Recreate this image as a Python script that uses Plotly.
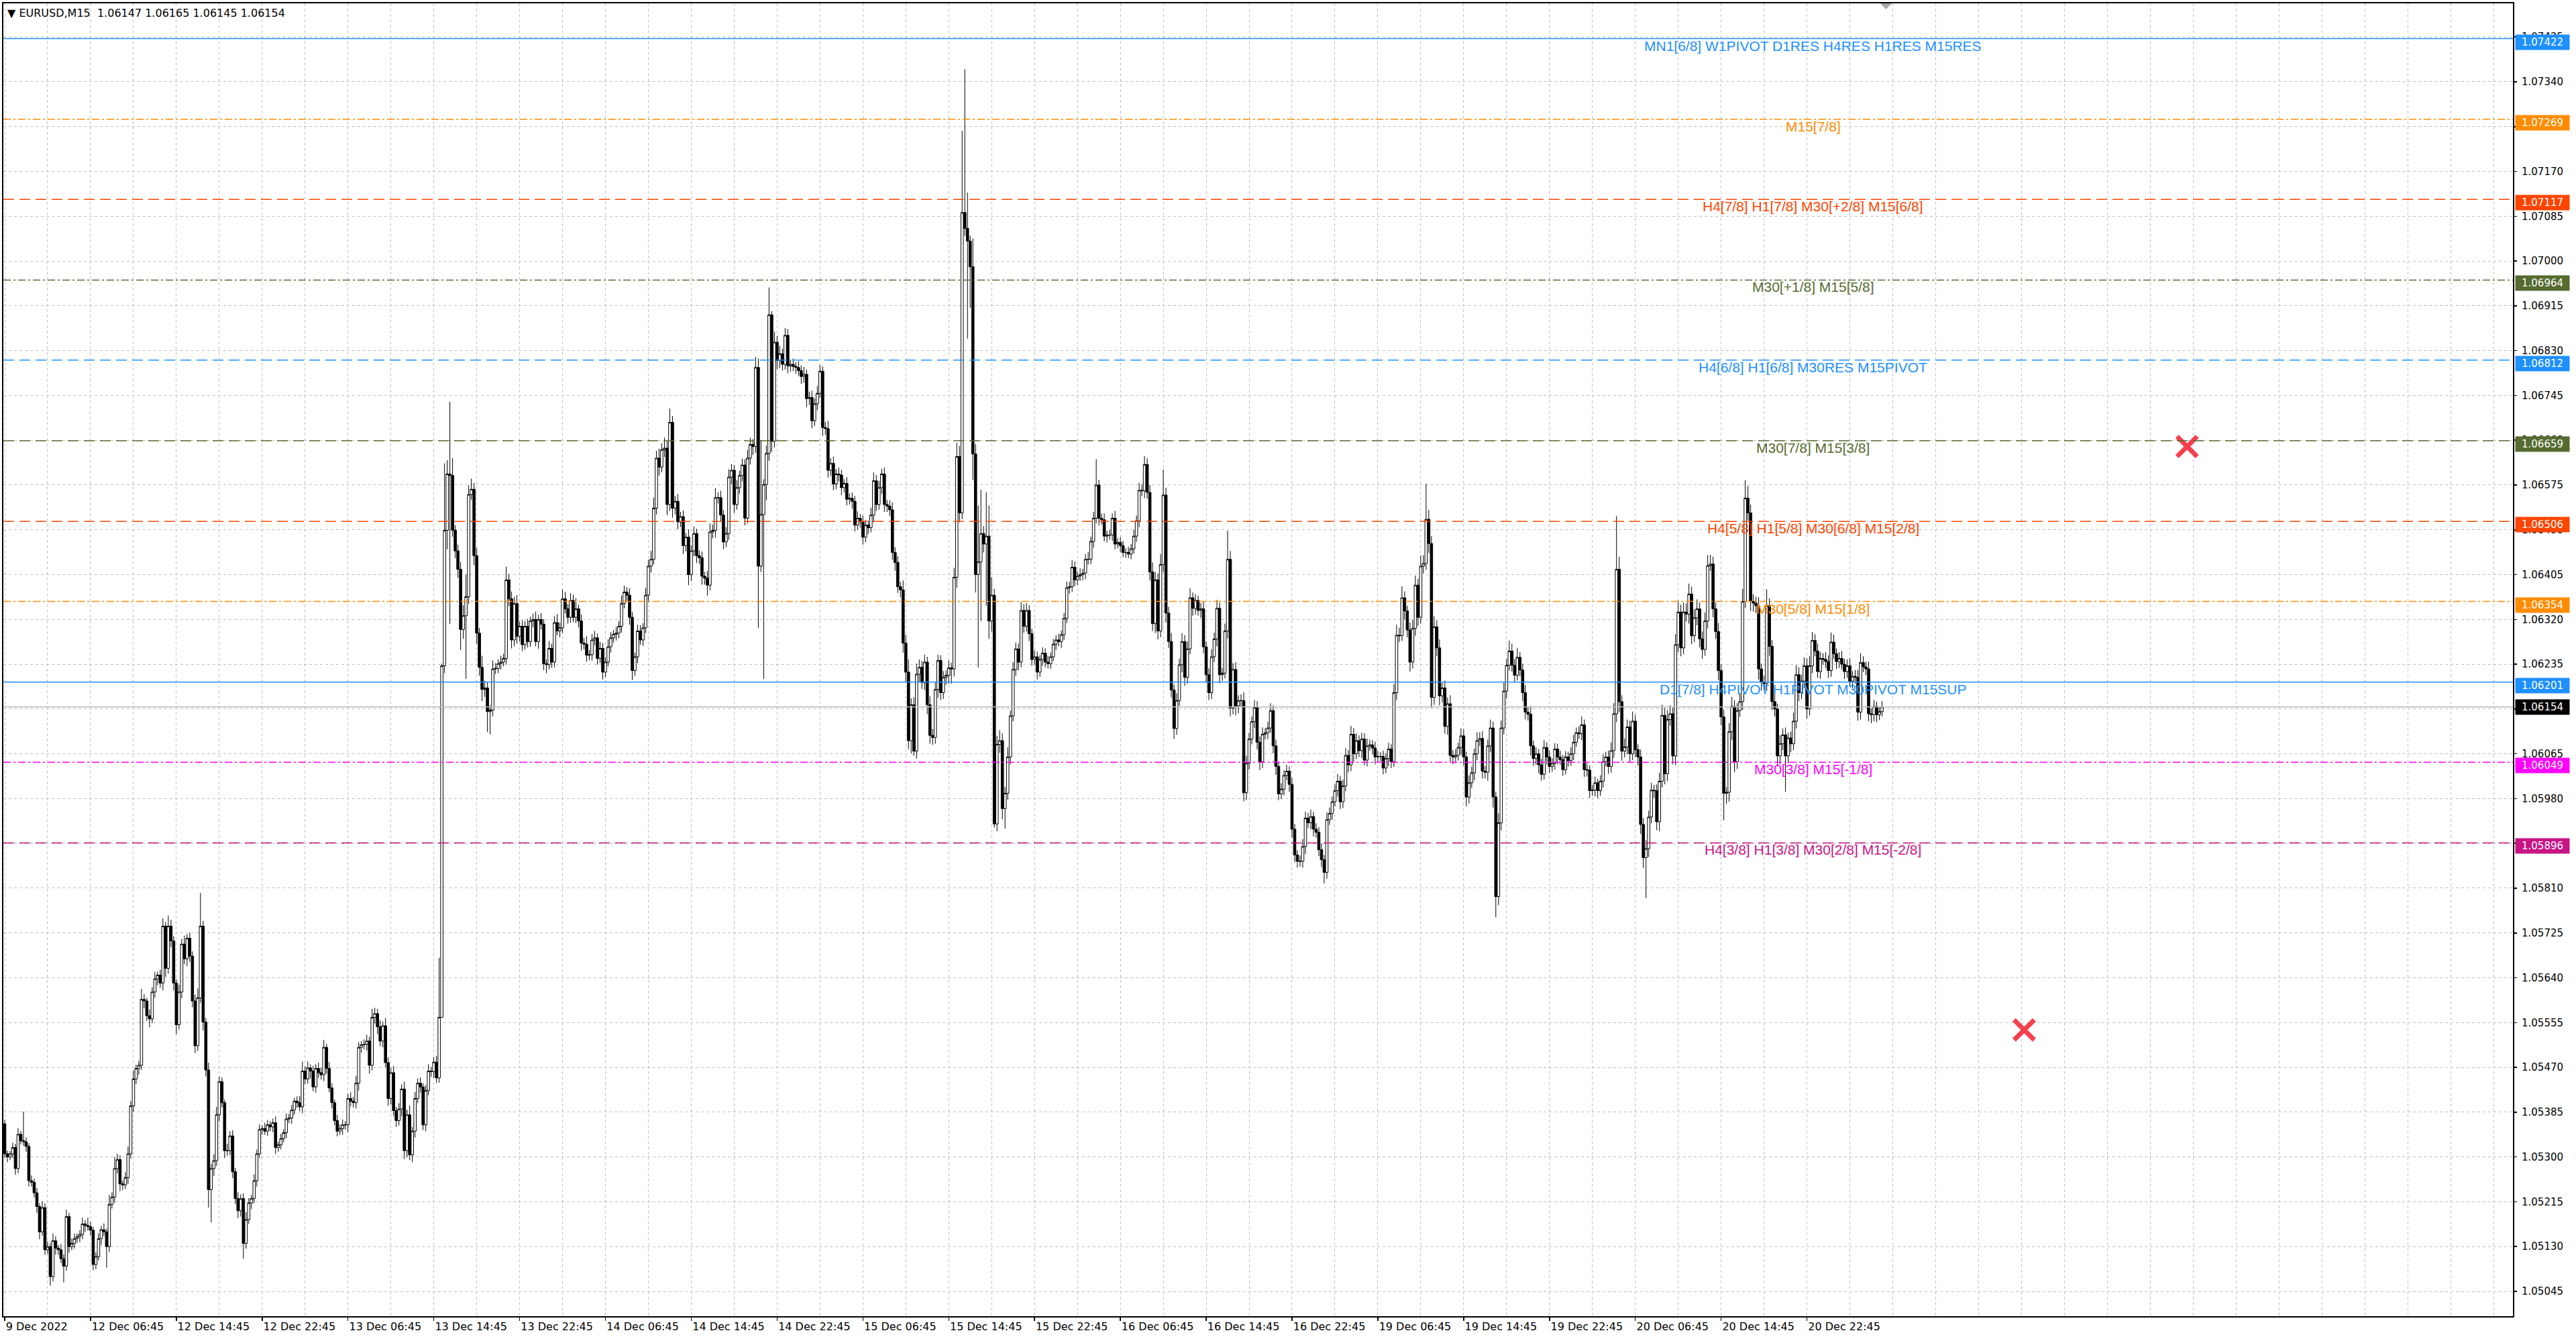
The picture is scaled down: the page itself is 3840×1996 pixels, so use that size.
import plotly.graph_objects as go

# ---------------- data (EURUSD M15, prices in points above 1.05000) ----------------
BASE_PRICE = 1.05
POINT = 0.00001
FIRST_OPEN_PTS = 363

CLOSE_PTS = [
    306, 300, 306, 318, 278, 343, 331, 329, 320, 255,
    252, 232, 206, 158, 204, 124, 130, 73, 141, 127,
    124, 107, 93, 187, 130, 136, 145, 149, 153, 173,
    170, 168, 161, 96, 111, 145, 162, 158, 130, 210,
    224, 278, 295, 249, 247, 261, 306, 397, 448, 468,
    474, 599, 596, 568, 562, 613, 638, 645, 630, 738,
    658, 738, 710, 630, 551, 613, 704, 676, 715, 681,
    596, 511, 602, 738, 556, 465, 238, 278, 293, 380,
    443, 403, 312, 312, 340, 272, 221, 198, 221, 136,
    181, 213, 221, 255, 306, 352, 354, 349, 361, 357,
    365, 318, 323, 335, 346, 372, 374, 389, 406, 403,
    395, 463, 448, 469, 463, 433, 468, 460, 456, 508,
    468, 431, 403, 369, 349, 354, 361, 361, 411, 406,
    403, 440, 508, 513, 514, 520, 474, 565, 572, 547,
    520, 549, 479, 411, 460, 388, 369, 391, 429, 312,
    380, 304, 349, 411, 440, 433, 361, 426, 463, 462,
    480, 450, 565, 1232, 1489, 1596, 1593, 1489, 1450, 1415,
    1301, 1327, 1363, 1557, 1567, 1441, 1294, 1229, 1187, 1190,
    1145, 1148, 1226, 1227, 1236, 1239, 1246, 1395, 1359, 1281,
    1350, 1288, 1307, 1272, 1307, 1278, 1317, 1320, 1278, 1320,
    1311, 1236, 1234, 1265, 1239, 1314, 1298, 1304, 1359, 1340,
    1324, 1356, 1324, 1340, 1317, 1275, 1273, 1252, 1253, 1281,
    1285, 1246, 1265, 1220, 1239, 1268, 1285, 1292, 1294, 1307,
    1350, 1372, 1366, 1324, 1223, 1249, 1298, 1281, 1304, 1366,
    1421, 1434, 1531, 1626, 1609, 1642, 1645, 1538, 1694, 1531,
    1544, 1505, 1515, 1460, 1476, 1405, 1450, 1483, 1441, 1437,
    1402, 1398, 1385, 1486, 1489, 1551, 1551, 1518, 1467, 1483,
    1590, 1603, 1538, 1570, 1593, 1613, 1512, 1626, 1652, 1648,
    1798, 1421, 1519, 1576, 1635, 1898, 1658, 1846, 1811, 1824,
    1804, 1859, 1801, 1804, 1800, 1798, 1792, 1781, 1785, 1739,
    1741, 1697, 1729, 1749, 1791, 1684, 1682, 1603, 1616, 1577,
    1596, 1594, 1570, 1578, 1548, 1550, 1544, 1499, 1512, 1505,
    1476, 1499, 1494, 1518, 1583, 1538, 1570, 1596, 1538, 1535,
    1528, 1447, 1428, 1382, 1376, 1275, 1220, 1090, 1158, 1070,
    1216, 1229, 1200, 1239, 1158, 1100, 1096, 1187, 1242, 1181,
    1210, 1214, 1228, 1226, 1400, 1629, 1522, 2092, 2062, 2038,
    1989, 1634, 1405, 1429, 1483, 1463, 1478, 1317, 1366, 932,
    1083, 1090, 961, 990, 1059, 1137, 1225, 1264, 1239, 1337,
    1307, 1337, 1293, 1244, 1249, 1220, 1244, 1256, 1239, 1236,
    1249, 1273, 1281, 1278, 1291, 1322, 1380, 1382, 1419, 1395,
    1402, 1405, 1408, 1434, 1434, 1468, 1512, 1575, 1512, 1509,
    1478, 1480, 1480, 1512, 1463, 1466, 1460, 1447, 1447, 1444,
    1454, 1478, 1507, 1565, 1564, 1614, 1561, 1410, 1312, 1395,
    1298, 1424, 1556, 1332, 1278, 1186, 1113, 1166, 1234, 1278,
    1210, 1264, 1361, 1341, 1356, 1337, 1340, 1268, 1215, 1181,
    1249, 1283, 1341, 1215, 1218, 1298, 1434, 1152, 1225, 1156,
    1166, 1166, 991, 1047, 1093, 1126, 1153, 1087, 1050, 1102,
    1105, 1114, 1147, 1080, 1041, 989, 998, 1024, 1032, 1007,
    922, 873, 861, 861, 889, 943, 934, 946, 922, 916,
    883, 864, 840, 940, 952, 974, 995, 1013, 974, 1004,
    1062, 1044, 1102, 1065, 1090, 1071, 1093, 1053, 1080, 1082,
    1076, 1059, 1060, 1060, 1038, 1056, 1074, 1050, 1181, 1290,
    1289, 1361, 1336, 1300, 1239, 1303, 1385, 1324, 1421, 1426,
    1510, 1464, 1172, 1306, 1266, 1175, 1190, 1117, 1160, 1062,
    1059, 1062, 1077, 1099, 1059, 983, 1010, 1029, 1065, 1090,
    1094, 1032, 1030, 1080, 1114, 983, 794, 934, 1114, 1184,
    1233, 1260, 1233, 1214, 1248, 1224, 1181, 1144, 1140, 1080,
    1056, 1065, 1044, 1026, 1077, 1059, 1041, 1047, 1074, 1059,
    1054, 1035, 1059, 1052, 1065, 1087, 1105, 1103, 1120, 1035,
    1034, 995, 996, 1010, 995, 1013, 1050, 1059, 1041, 1071,
    1141, 1415, 1164, 1070, 1078, 1116, 1065, 1127, 1073, 1059,
    931, 868, 885, 945, 996, 995, 936, 1013, 1138, 1027,
    1130, 1141, 1061, 1272, 1334, 1266, 1334, 1330, 1368, 1289,
    1323, 1340, 1283, 1263, 1317, 1422, 1425, 1340, 1297, 1223,
    1135, 990, 992, 1107, 1155, 1050, 1147, 1164, 1354, 1550,
    1522, 1354, 1351, 1346, 1226, 1201, 1198, 1346, 1269, 1164,
    1150, 1061, 1084, 1101, 1061, 1095, 1084, 1127, 1215, 1181,
    1203, 1232, 1150, 1232, 1280, 1260, 1221, 1246, 1244, 1240,
    1223, 1277, 1255, 1240, 1246, 1235, 1221, 1232, 1203, 1212,
    1210, 1144, 1238, 1230, 1226, 1141, 1139, 1155, 1139, 1145,
    1154,
]

UP_WICK_PTS = [
    8, 6, 5, 9, 7, 12, 6, 55, 8, 6,
    10, 7, 9, 6, 12, 8, 10, 7, 14, 9,
    6, 11, 8, 13, 7, 9, 10, 6, 8, 12,
    7, 15, 9, 6, 8, 10, 7, 12, 6, 18,
    9, 22, 11, 8, 6, 10, 14, 9, 16, 7,
    8, 20, 10, 6, 12, 9, 13, 7, 10, 15,
    8, 20, 12, 9, 7, 14, 10, 16, 8, 11,
    9, 12, 18, 63, 10, 8, 14, 9, 12, 15,
    10, 8, 6, 13, 9, 11, 7, 12, 8, 10,
    14, 9, 7, 12, 8, 10, 6, 11, 9, 7,
    8, 12, 6, 9, 7, 11, 8, 10, 6, 9,
    13, 18, 9, 12, 7, 10, 8, 11, 9, 14,
    7, 12, 9, 6, 11, 8, 10, 7, 9, 12,
    8, 14, 10, 7, 9, 12, 8, 16, 11, 9,
    12, 8, 15, 10, 9, 13, 7, 11, 9, 14,
    10, 18, 8, 12, 9, 11, 7, 10, 13, 8,
    9, 12, 113, 4, 127, 26, 137, 33, 10, 12,
    14, 20, 42, 18, 20, 12, 15, 10, 22, 14,
    12, 9, 16, 10, 8, 12, 9, 25, 11, 14,
    13, 16, 9, 12, 10, 14, 8, 11, 15, 9,
    12, 10, 8, 14, 9, 12, 16, 10, 18, 13,
    9, 14, 11, 20, 8, 12, 10, 15, 9, 11,
    13, 8, 12, 10, 9, 14, 11, 8, 12, 10,
    15, 12, 9, 13, 10, 8, 12, 11, 9, 14,
    12, 16, 20, 14, 18, 12, 20, 14, 26, 12,
    10, 14, 9, 12, 8, 15, 11, 13, 9, 10,
    12, 8, 14, 16, 11, 18, 10, 13, 9, 12,
    15, 12, 10, 14, 9, 12, 11, 16, 13, 10,
    20, 17, 141, 10, 15, 52, 7, 20, 12, 15,
    10, 14, 12, 9, 11, 8, 12, 10, 14, 9,
    11, 13, 10, 14, 12, 9, 11, 15, 10, 13,
    9, 12, 10, 8, 12, 9, 11, 10, 13, 8,
    12, 10, 9, 14, 16, 11, 13, 10, 12, 9,
    11, 14, 10, 12, 9, 18, 16, 24, 12, 14,
    20, 15, 12, 14, 10, 16, 12, 14, 11, 10,
    12, 9, 14, 10, 18, 26, 20, 155, 272, 68,
    10, 54, 19, 107, 83, 14, 83, 58, 34, 12,
    16, 20, 14, 12, 18, 10, 14, 12, 10, 16,
    12, 14, 10, 9, 12, 10, 8, 11, 9, 12,
    8, 10, 9, 12, 8, 10, 12, 9, 14, 11,
    9, 12, 8, 10, 14, 9, 12, 49, 10, 9,
    12, 8, 10, 9, 14, 8, 10, 9, 8, 11,
    9, 12, 10, 14, 11, 16, 12, 14, 18, 15,
    12, 20, 48, 14, 12, 16, 10, 14, 12, 16,
    12, 14, 18, 10, 12, 9, 11, 14, 10, 12,
    14, 12, 16, 11, 10, 14, 54, 16, 12, 14,
    10, 12, 16, 14, 12, 10, 14, 12, 11, 13,
    9, 12, 14, 10, 12, 9, 11, 10, 12, 9,
    12, 10, 9, 11, 14, 12, 10, 13, 9, 11,
    10, 12, 9, 14, 11, 10, 12, 14, 10, 12,
    14, 10, 16, 12, 14, 10, 12, 11, 14, 10,
    9, 12, 10, 8, 11, 10, 12, 9, 16, 20,
    14, 22, 12, 10, 14, 16, 18, 12, 20, 16,
    67, 18, 14, 20, 12, 16, 10, 14, 12, 16,
    10, 12, 9, 14, 12, 10, 14, 12, 10, 16,
    12, 14, 10, 12, 16, 12, 10, 18, 14, 16,
    12, 20, 14, 12, 18, 10, 12, 14, 10, 16,
    10, 12, 9, 11, 14, 10, 12, 9, 11, 10,
    12, 9, 11, 10, 12, 14, 10, 12, 16, 10,
    12, 9, 10, 12, 8, 11, 14, 10, 12, 16,
    20, 101, 24, 12, 16, 14, 12, 18, 12, 10,
    14, 12, 16, 12, 14, 10, 12, 16, 20, 14,
    18, 16, 12, 20, 22, 14, 18, 16, 20, 14,
    16, 18, 12, 14, 16, 20, 18, 14, 12, 16,
    12, 14, 10, 16, 18, 12, 14, 16, 24, 34,
    23, 16, 14, 12, 16, 10, 12, 31, 14, 12,
    14, 10, 16, 12, 14, 10, 12, 16, 18, 14,
    12, 16, 14, 18, 16, 12, 14, 12, 10, 14,
    12, 18, 14, 10, 12, 14, 10, 12, 14, 10,
    12, 14, 18, 12, 10, 14, 10, 12, 9, 10,
    11,
]

DN_WICK_PTS = [
    7, 10, 6, 8, 12, 9, 7, 8, 10, 11,
    8, 9, 12, 14, 7, 10, 8, 17, 9, 12,
    10, 8, 31, 9, 12, 7, 10, 8, 11, 9,
    12, 8, 10, 11, 9, 7, 12, 8, 40, 10,
    8, 11, 9, 14, 10, 8, 12, 9, 11, 10,
    12, 9, 14, 10, 16, 8, 11, 12, 9, 14,
    16, 10, 12, 14, 18, 9, 12, 10, 14, 11,
    12, 14, 10, 9, 16, 12, 34, 62, 14, 10,
    12, 9, 14, 10, 8, 12, 10, 14, 11, 29,
    10, 8, 12, 9, 11, 8, 10, 7, 9, 8,
    10, 12, 8, 9, 7, 10, 8, 11, 9, 10,
    8, 12, 10, 9, 14, 8, 11, 10, 9, 12,
    10, 8, 11, 9, 10, 7, 12, 9, 14, 10,
    9, 11, 14, 10, 9, 12, 16, 10, 12, 14,
    10, 12, 9, 14, 11, 10, 12, 9, 14, 16,
    12, 10, 14, 12, 9, 11, 10, 12, 9, 10,
    12, 10, 9, 0, 14, 36, 282, 12, 14, 16,
    39, 18, 120, 14, 10, 18, 20, 16, 22, 14,
    39, 43, 12, 10, 9, 11, 8, 12, 14, 16,
    12, 14, 10, 12, 9, 11, 10, 12, 9, 14,
    10, 12, 16, 9, 11, 10, 8, 12, 10, 9,
    12, 10, 9, 11, 12, 14, 10, 12, 9, 11,
    10, 12, 9, 14, 10, 8, 11, 9, 12, 10,
    12, 9, 11, 14, 18, 10, 12, 9, 11, 10,
    14, 12, 10, 12, 16, 10, 14, 20, 12, 18,
    12, 14, 10, 16, 11, 20, 12, 10, 14, 12,
    16, 12, 20, 10, 12, 14, 11, 12, 14, 10,
    12, 14, 16, 10, 12, 11, 14, 10, 12, 16,
    12, 117, 11, 312, 30, 14, 20, 12, 16, 14,
    12, 10, 14, 11, 9, 12, 10, 14, 12, 16,
    12, 14, 10, 12, 9, 16, 12, 14, 11, 12,
    10, 12, 14, 9, 12, 10, 14, 12, 9, 11,
    14, 10, 12, 9, 14, 12, 10, 12, 14, 11,
    12, 14, 16, 12, 14, 18, 20, 16, 24, 9,
    14, 16, 12, 14, 18, 16, 14, 12, 16, 14,
    12, 14, 16, 28, 14, 20, 18, 12, 14, 185,
    78, 49, 34, 176, 112, 16, 117, 34, 20, 7,
    14, 16, 20, 38, 12, 14, 10, 12, 16, 10,
    12, 10, 14, 12, 10, 14, 9, 12, 10, 9,
    10, 8, 11, 9, 12, 10, 9, 11, 10, 12,
    10, 9, 11, 12, 10, 9, 12, 10, 14, 9,
    10, 12, 9, 11, 10, 8, 12, 9, 10, 8,
    10, 9, 11, 12, 10, 14, 12, 16, 14, 18,
    16, 12, 14, 18, 12, 14, 20, 12, 10, 14,
    16, 12, 10, 14, 12, 10, 14, 12, 16, 14,
    12, 10, 14, 16, 12, 10, 14, 16, 12, 18,
    14, 12, 16, 14, 12, 10, 12, 14, 16, 12,
    10, 12, 9, 14, 16, 12, 10, 12, 9, 14,
    16, 14, 12, 10, 12, 14, 10, 12, 14, 10,
    12, 14, 21, 12, 10, 12, 9, 11, 14, 12,
    10, 14, 12, 16, 10, 12, 14, 10, 12, 9,
    12, 14, 10, 9, 12, 10, 14, 12, 10, 14,
    12, 10, 16, 14, 18, 12, 14, 16, 12, 14,
    12, 18, 20, 14, 16, 18, 12, 14, 16, 12,
    14, 12, 10, 14, 16, 18, 12, 10, 14, 12,
    10, 14, 12, 16, 12, 20, 39, 16, 14, 12,
    14, 10, 12, 14, 10, 12, 16, 14, 12, 18,
    14, 12, 16, 12, 10, 14, 12, 10, 12, 14,
    10, 12, 9, 11, 10, 12, 9, 10, 12, 14,
    12, 14, 10, 12, 14, 10, 12, 9, 14, 12,
    14, 16, 20, 18, 12, 14, 16, 12, 14, 16,
    18, 20, 77, 16, 12, 14, 16, 18, 12, 20,
    14, 12, 16, 18, 14, 16, 12, 14, 18, 16,
    12, 14, 16, 18, 12, 14, 10, 16, 14, 18,
    16, 51, 20, 18, 16, 20, 14, 12, 16, 12,
    14, 18, 16, 14, 20, 16, 12, 14, 18, 16,
    14, 20, 16, 12, 68, 14, 16, 12, 14, 16,
    12, 14, 18, 12, 14, 10, 12, 14, 10, 12,
    14, 12, 10, 14, 12, 10, 14, 12, 10, 14,
    12, 16, 14, 10, 12, 14, 16, 12, 14, 10,
    9,
]

X_LABEL_BARS = [0, 32, 64, 96, 128, 160, 192, 224, 256, 288, 320,
                352, 384, 416, 448, 480, 512, 544, 576, 608, 640, 672]
X_LABELS = ["9 Dec 2022", "12 Dec 06:45", "12 Dec 14:45", "12 Dec 22:45",
            "13 Dec 06:45", "13 Dec 14:45", "13 Dec 22:45", "14 Dec 06:45",
            "14 Dec 14:45", "14 Dec 22:45", "15 Dec 06:45", "15 Dec 14:45",
            "15 Dec 22:45", "16 Dec 06:45", "16 Dec 14:45", "16 Dec 22:45",
            "19 Dec 06:45", "19 Dec 14:45", "19 Dec 22:45", "20 Dec 06:45",
            "20 Dec 14:45", "20 Dec 22:45"]

Y_TICKS = [1.05045, 1.05130, 1.05215, 1.05300, 1.05385, 1.05470, 1.05555,
           1.05640, 1.05725, 1.05810, 1.05895, 1.05980, 1.06065, 1.06150,
           1.06235, 1.06320, 1.06405, 1.06490, 1.06575, 1.06660, 1.06745,
           1.06830, 1.06915, 1.07000, 1.07085, 1.07170, 1.07255, 1.07340,
           1.07425]

LEVEL_PRICES = [1.07422, 1.07269, 1.07117, 1.06964, 1.06812, 1.06659,
                1.06506, 1.06354, 1.06201, 1.06049, 1.05896]
LEVEL_TEXTS = ["MN1[6/8] W1PIVOT D1RES H4RES H1RES M15RES",
               "M15[7/8]",
               "H4[7/8] H1[7/8] M30[+2/8] M15[6/8]",
               "M30[+1/8] M15[5/8]",
               "H4[6/8] H1[6/8] M30RES M15PIVOT",
               "M30[7/8] M15[3/8]",
               "H4[5/8] H1[5/8] M30[6/8] M15[2/8]",
               "M30[5/8] M15[1/8]",
               "D1[7/8] H4PIVOT H1PIVOT M30PIVOT M15SUP",
               "M30[3/8] M15[-1/8]",
               "H4[3/8] H1[3/8] M30[2/8] M15[-2/8]"]
LEVEL_COLORS = ["#1E90FF", "#FF8C00", "#FF4500", "#556B2F", "#1E90FF",
                "#556B2F", "#FF4500", "#FF8C00", "#1E90FF", "#FF00FF",
                "#C71585"]
LEVEL_STYLES = ["solid", "dashdot", "dash", "dashdot", "dash", "dash",
                "dash", "dashdot", "solid", "dashdot", "dash"]
LEVEL_TEXT_BAR = 674.25

BID_PRICE = 1.06154
HEADER = "▼\u00a0EURUSD,M15\u00a0\u00a01.06147 1.06165 1.06145 1.06154"
SHIFT_MARK_BAR = 701.5

X_MARK_BARS = [753.0, 813.75]
X_MARK_PRICES = [1.05541, 1.06648]

# ---------------- build OHLC ----------------
n = len(CLOSE_PTS)
assert len(UP_WICK_PTS) == n and len(DN_WICK_PTS) == n, (n, len(UP_WICK_PTS), len(DN_WICK_PTS))
open_pts = [FIRST_OPEN_PTS] + CLOSE_PTS[:-1]          # M15 bars open at previous close
high_pts = [max(o, c) + u for o, c, u in zip(open_pts, CLOSE_PTS, UP_WICK_PTS)]
low_pts = [min(o, c) - d for o, c, d in zip(open_pts, CLOSE_PTS, DN_WICK_PTS)]
to_price = lambda v: round(BASE_PRICE + v * POINT, 5)
bars = list(range(n))

GRID = "#c0c0c0"
GRID_DASH = "4px,4px"
DASHES = {"solid": "solid", "dash": "16px,8px", "dashdot": "11px,4px,3px,4px"}
AXIS_FONT = "DejaVu Sans, Verdana, sans-serif"
LABEL_FONT = "Liberation Sans, Arial, sans-serif"

fig = go.Figure()
fig.add_trace(go.Candlestick(
    x=bars,
    open=[to_price(v) for v in open_pts],
    high=[to_price(v) for v in high_pts],
    low=[to_price(v) for v in low_pts],
    close=[to_price(v) for v in CLOSE_PTS],
    increasing=dict(line=dict(color="black", width=1), fillcolor="white"),
    decreasing=dict(line=dict(color="black", width=1), fillcolor="black"),
    whiskerwidth=0,
    hoverinfo="skip",
    showlegend=False,
))

fig.add_trace(go.Scatter(
    x=X_MARK_BARS, y=X_MARK_PRICES, mode="markers",
    marker=dict(symbol="x-thin", size=30, color="#F5404E",
                line=dict(width=7, color="#F5404E")),
    hoverinfo="skip", showlegend=False,
))

shapes = []
annotations = []
for p, txt, col, sty in zip(LEVEL_PRICES, LEVEL_TEXTS, LEVEL_COLORS, LEVEL_STYLES):
    shapes.append(dict(type="line", xref="paper", x0=0, x1=1, yref="y", y0=p, y1=p,
                       line=dict(color=col, width=1.5, dash=DASHES[sty])))
    annotations.append(dict(x=LEVEL_TEXT_BAR, y=p, xref="x", yref="y", text=txt,
                            showarrow=False, xanchor="center", yanchor="top", yshift=3,
                            font=dict(family=LABEL_FONT, size=21, color=col)))
    annotations.append(dict(x=1, y=p, xref="paper", yref="y", text=f"{p:.5f}",
                            showarrow=False, xanchor="left", yanchor="middle",
                            xshift=3, yshift=-5, width=78, height=20, borderpad=1,
                            bgcolor=col, align="center",
                            font=dict(family=AXIS_FONT, size=15, color="white")))

shapes.append(dict(type="line", xref="paper", x0=0, x1=1, yref="y", y0=BID_PRICE,
                   y1=BID_PRICE, line=dict(color="#b8b8b8", width=1.5)))
# chart-shift marker (small grey triangle hanging from the top border)
shapes.append(dict(type="path", xref="x", yref="paper",
                   path=f"M {SHIFT_MARK_BAR - 2.2},1.0 L {SHIFT_MARK_BAR + 2.2},1.0 "
                        f"L {SHIFT_MARK_BAR},0.9955 Z",
                   fillcolor="#a8a8a8", line=dict(width=0)))
annotations.append(dict(x=1, y=BID_PRICE, xref="paper", yref="y", text=f"{BID_PRICE:.5f}",
                        showarrow=False, xanchor="left", yanchor="middle", xshift=3,
                        width=78, height=20, borderpad=1, bgcolor="black", align="center",
                        font=dict(family=AXIS_FONT, size=15, color="white")))
annotations.append(dict(x=0, y=1, xref="paper", yref="paper", text=HEADER, showarrow=False,
                        xanchor="left", yanchor="top", xshift=4, yshift=-3,
                        font=dict(family=AXIS_FONT, size=16, color="black")))

fig.update_layout(
    width=3840, height=1996, autosize=False,
    margin=dict(l=3, r=94, t=5, b=34, pad=0),
    paper_bgcolor="white", plot_bgcolor="white",
    boxgap=0.1, boxgroupgap=0,
    shapes=shapes, annotations=annotations,
    showlegend=False,
    xaxis=dict(
        range=[-0.5, 935.25], rangeslider=dict(visible=False),
        tickmode="array", tickvals=X_LABEL_BARS, ticktext=X_LABELS,
        ticks="outside", ticklen=5, tickcolor="black", tickwidth=1.5,
        ticklabelposition="outside right",
        tickfont=dict(family=AXIS_FONT, size=16, color="black"),
        showgrid=True, gridcolor=GRID, griddash=GRID_DASH, gridwidth=1,
        minor=dict(dtick=16, tick0=0, showgrid=True, gridcolor=GRID,
                   griddash=GRID_DASH, gridwidth=1, ticks=""),
        showline=True, linecolor="black", linewidth=2, mirror=True,
        zeroline=False, fixedrange=True,
    ),
    yaxis=dict(
        side="right", range=[1.049979, 1.074889],
        tickmode="array", tickvals=Y_TICKS, ticktext=[f"{v:.5f}" for v in Y_TICKS],
        ticks="outside", ticklen=4, tickcolor="black", tickwidth=1.5,
        ticklabelstandoff=4,
        tickfont=dict(family=AXIS_FONT, size=15, color="black"),
        showgrid=True, gridcolor=GRID, griddash=GRID_DASH, gridwidth=1,
        showline=True, linecolor="black", linewidth=2, mirror=True,
        zeroline=False, fixedrange=True,
    ),
)

fig.write_html("out.html", include_plotlyjs=True, full_html=True,
               config={"displayModeBar": False, "staticPlot": True},
               post_script="document.body.style.margin='0';document.body.style.overflow='hidden';")
